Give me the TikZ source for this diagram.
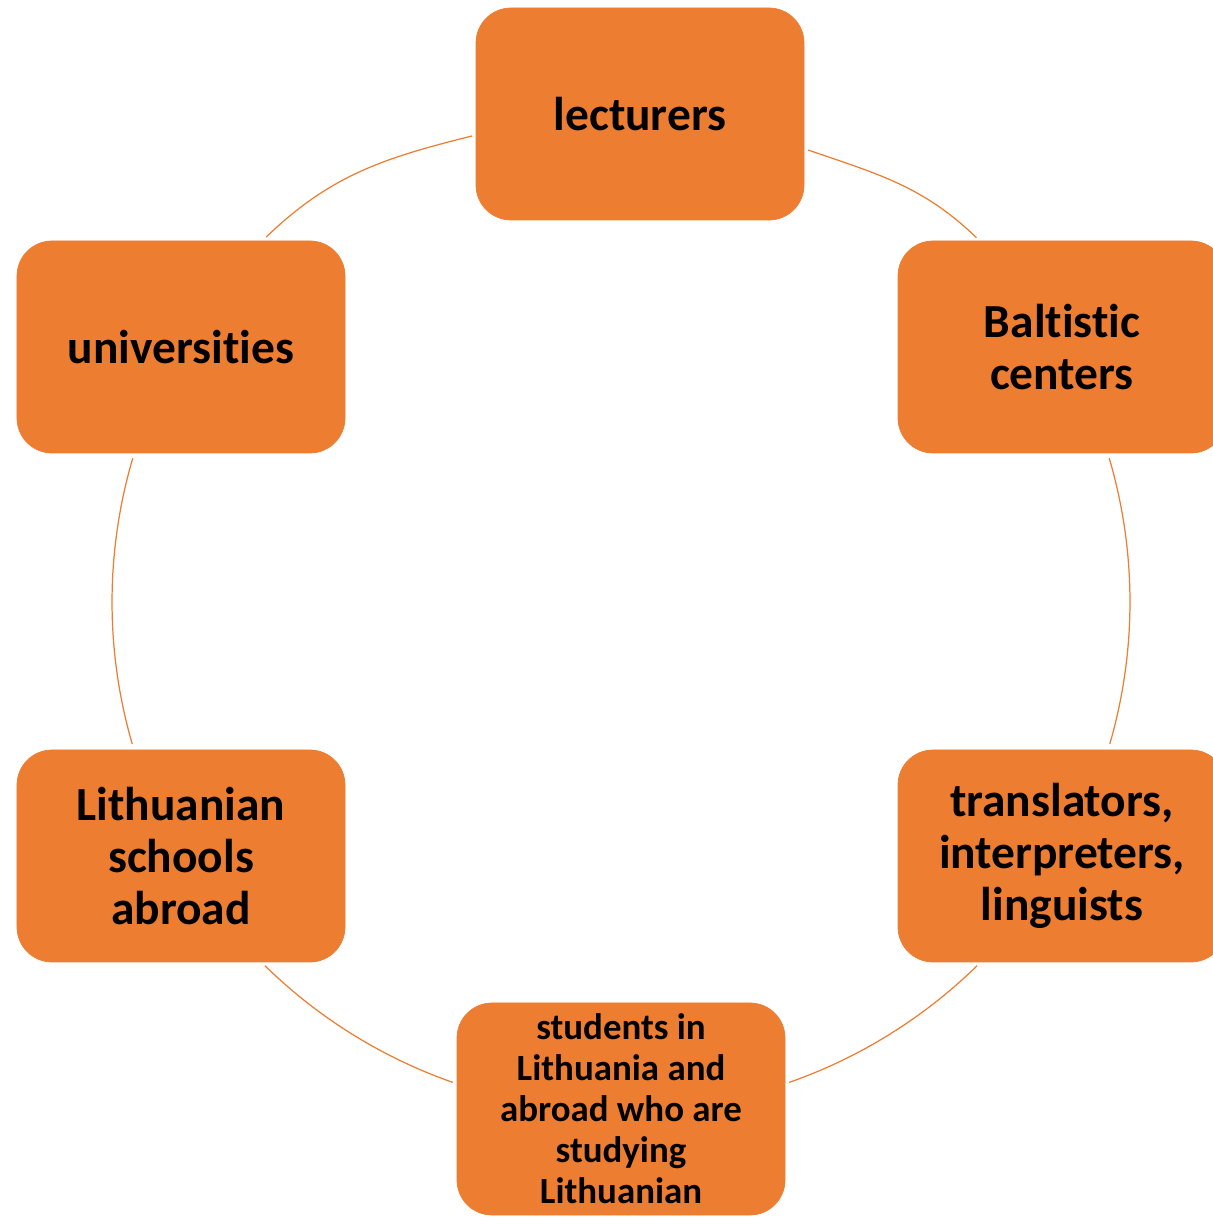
\documentclass[tikz,border=0pt]{standalone}
\usepackage{fontspec}
\setmainfont{Carlito}[Ligatures={NoCommon}]
\usepackage{tikz}
\usetikzlibrary{positioning,calc}
\definecolor{smartorange}{HTML}{ED7D31}
\tikzstyle{cycbox}  = [rectangle, rounded corners=0.7cm, fill=smartorange, draw=smartorange, minimum width=6.56cm, minimum height=4.24cm, align=center, text=black, font=\bfseries\fontsize{27}{29.6}\selectfont]
\tikzstyle{cycline} = [draw=smartorange, line width=0.7pt]

\begin{document}
\begin{tikzpicture}
		\useasboundingbox (0,0) rectangle (24.24,24.36);
		\coordinate (o) at (12.42,12.32);
		% arcs of the cycle
		\coordinate (tl) at (9.44,21.64);
		\coordinate (tr) at (16.16,21.36);
		\draw[cycline] (o) ++(134.2:10.18) to[out=44,in=194] (tl);
		\draw[cycline] (tr) to[out=-19,in=136] ($(o)+(45.7:10.18)$);
		\draw[cycline] (o) ++(163.6:10.18) arc[start angle=163.6, end angle=196.2, radius=10.18];
		\draw[cycline] (o) ++(225.6:10.18) arc[start angle=225.6, end angle=250.7, radius=10.18];
		\draw[cycline] (o) ++(289.3:10.18) arc[start angle=289.3, end angle=314.4, radius=10.18];
		\draw[cycline] (o) ++(-16.2:10.18) arc[start angle=-16.2, end angle=16.4, radius=10.18];
		% boxes
		\node[cycbox] (lect) at (12.80,22.08) {lecturers};
		\node[cycbox] (balt) at (21.24,17.42) {Baltistic\\centers};
		\node[cycbox] (trans) at (21.24,7.24) {translators,\\interpreters,\\linguists};
		\node[cycbox, font=\bfseries\fontsize{21}{23.3}\selectfont] (stud) at (12.42,2.18) {students in\\Lithuania and\\abroad who are\\studying\\Lithuanian};
		\node[cycbox] (schools) at (3.62,7.24) {Lithuanian\\schools\\abroad};
		\node[cycbox] (univ) at (3.62,17.42) {universities};
\end{tikzpicture}
\end{document}
